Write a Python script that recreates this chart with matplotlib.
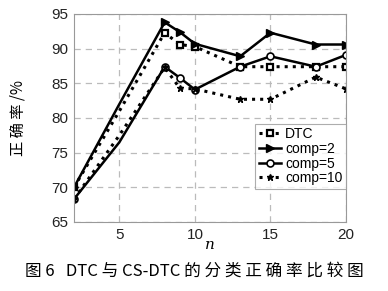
import matplotlib
matplotlib.use("Agg")
import matplotlib.pyplot as plt

plt.rcParams["font.family"] = ["Liberation Sans", "Noto Sans CJK SC", "DejaVu Sans"]

# data
n = [2, 5, 8, 9, 10, 13, 15, 18, 20]
dtc = [70.0, 81.0, 92.3, 90.6, 90.3, 87.4, 87.4, 87.4, 87.4]
comp2 = [70.0, 82.0, 93.8, 92.4, 90.7, 88.9, 92.3, 90.6, 90.6]
comp5 = [68.3, 76.5, 87.4, 85.8, 84.1, 87.4, 88.9, 87.4, 89.1]
comp10 = [68.3, 77.5, 87.3, 84.3, 84.2, 82.7, 82.7, 85.9, 84.2]

fig = plt.figure(figsize=(3.88, 2.91), dpi=100)
ax = fig.add_axes([74/388, 1 - 222/291, (346-74)/388, (222-14)/291])

# markers at x=5 are barely visible in the original, skip them
mk = [0, 2, 3, 4, 5, 6, 7, 8]
ax.plot(n, dtc, ":", color="black", lw=2.2, marker="s", ms=5, mfc="white", mew=1.6,
        markevery=mk, label="DTC")
ax.plot(n, comp2, "-", color="black", lw=1.8, marker=">", ms=6, markevery=mk, label="comp=2")
ax.plot(n, comp5, "-", color="black", lw=1.8, marker="o", ms=5, mfc="white", mew=1.2,
        markevery=mk, label="comp=5")
ax.plot(n, comp10, ":", color="black", lw=2.2, marker="*", ms=5, markevery=mk, label="comp=10")

ax.set_xlim(2, 20)
ax.set_ylim(65, 95)
ax.set_xticks([5, 10, 15, 20])
ax.set_yticks([65, 70, 75, 80, 85, 90, 95])
ax.grid(True, linestyle=(0, (5, 4)), color="#bbbbbb", lw=0.9)
for s in ax.spines.values():
    s.set_color("#999999")
ax.tick_params(length=0, labelsize=11, colors="#222222", pad=4)

ax.set_ylabel("正 确 率 /%", family=["Noto Sans CJK SC", "DejaVu Sans"], fontsize=11, labelpad=18)

# x label placed by hand so it sits between the ticks and the caption
fig.text(210/388, 1 - 245/291, "n", ha="center", va="center", fontstyle="italic",
         family="DejaVu Serif", fontsize=11)

leg = ax.legend(loc="lower right", bbox_to_anchor=(1.0, 0.16), fontsize=10, handlelength=1.6,
                handletextpad=0.3, labelspacing=0.05, borderpad=0.25, fancybox=False,
                edgecolor="#999999", borderaxespad=0.0)
leg.get_frame().set_linewidth(0.8)

fig.text(0.5, 1 - 271/291, "图 6   DTC 与 CS-DTC 的 分 类 正 确 率 比 较 图", ha="center", va="center",
         family=["Noto Sans CJK SC", "DejaVu Sans"], fontsize=12)

fig.savefig("out.png", dpi=100)
